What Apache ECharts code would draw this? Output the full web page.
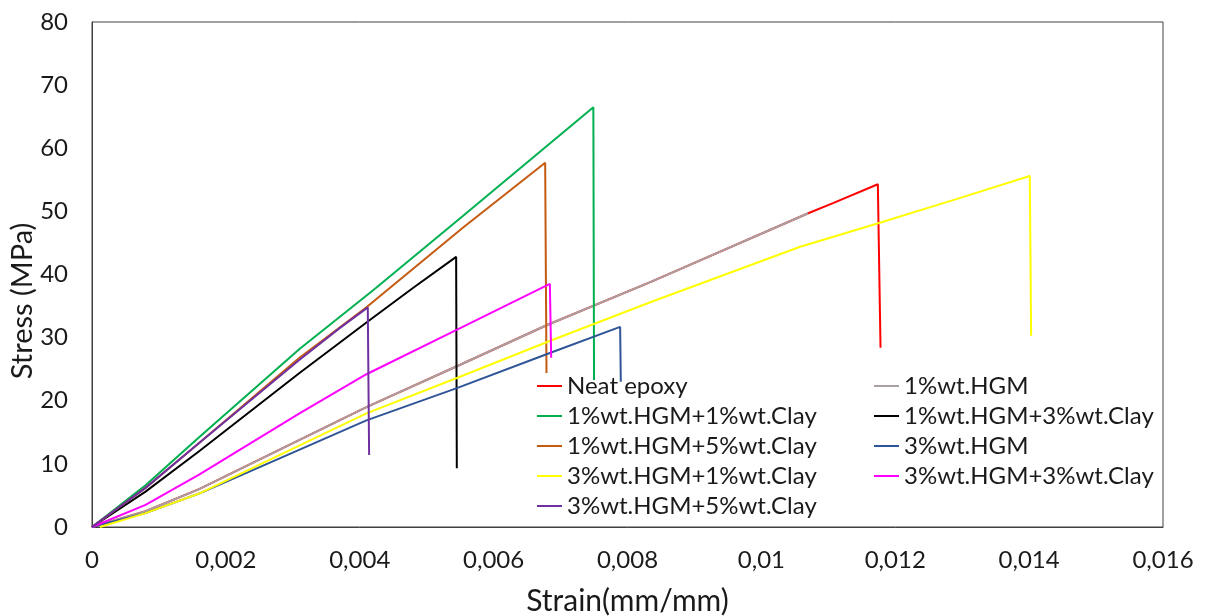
<!DOCTYPE html>
<html>
<head>
<meta charset="utf-8">
<script src="https://cdn.jsdelivr.net/npm/echarts@6/dist/echarts.min.js"></script>
<style>
  html, body { margin: 0; padding: 0; background: #fff; }
  #container { width: 1205px; height: 616px; }
</style>
</head>
<body>
<div id="container"></div>
<script>
// strain (mm/mm), stress (MPa)
var neatEpoxy = [[0,0],[0.0008,2.5],[0.0016,6.0],[0.0041,19.0],[0.0055,25.7],[0.0068,32.0],[0.00834,38.8],[0.0107,49.7],[0.01107,51.3],[0.01174,54.3],[0.01176,54.5],[0.01178,28.4]];
var hgm1 = [[0,0],[0.0008,2.5],[0.0016,6.0],[0.0041,19.0],[0.0055,25.7],[0.0068,32.0],[0.00834,38.8],[0.0107,49.7]];
var hgm1clay1 = [[0,0],[0.0008,6.6],[0.0016,14.2],[0.0031,28.2],[0.0042,37.5],[0.0055,48.9],[0.00749,66.5],[0.0075,23.3]];
var hgm1clay3 = [[0,0],[0.0008,5.6],[0.0016,12.0],[0.0031,24.4],[0.0041,32.4],[0.0048,37.9],[0.00544,42.8],[0.00545,9.3]];
var hgm1clay5 = [[0,0],[0.0008,6.2],[0.0016,13.3],[0.0031,26.8],[0.0041,34.8],[0.00554,47.4],[0.00677,57.7],[0.00679,24.4]];
var hgm3 = [[0,0],[0.0008,2.2],[0.0016,5.3],[0.0041,16.9],[0.00545,22.0],[0.0068,27.4],[0.00789,31.7],[0.0079,23.0]];
var hgm3clay1 = [[0.00012,0],[0.0008,2.2],[0.0016,5.3],[0.0041,18.0],[0.00545,23.6],[0.0068,29.3],[0.00834,35.6],[0.01058,44.4],[0.01177,48.2],[0.0129,51.9],[0.01401,55.6],[0.01403,30.3]];
var hgm3clay3 = [[0,0],[0.0008,3.5],[0.0016,8.3],[0.0031,18.0],[0.0041,24.2],[0.0055,31.5],[0.00684,38.5],[0.00686,26.8]];
var hgm3clay5 = [[0,0],[0.0008,6.2],[0.0016,13.3],[0.0031,26.5],[0.0037,31.5],[0.00412,34.8],[0.00414,11.4]];

var names = ['Neat epoxy', '1%wt.HGM', '1%wt.HGM+1%wt.Clay', '1%wt.HGM+3%wt.Clay', '1%wt.HGM+5%wt.Clay',
             '3%wt.HGM', '3%wt.HGM+1%wt.Clay', '3%wt.HGM+3%wt.Clay', '3%wt.HGM+5%wt.Clay'];
var colors = ['#FF0000', '#A9A0A0', '#00B050', '#000000', '#C55A11', '#2F5597', '#FFFF00', '#FF00FF', '#7030A0'];
var allData = [neatEpoxy, hgm1, hgm1clay1, hgm1clay3, hgm1clay5, hgm3, hgm3clay1, hgm3clay3, hgm3clay5];

var font = 'Lato, "Open Sans", sans-serif';
var textColor = '#1a1a1a';

var myChart = echarts.init(document.getElementById('container'));

var series = names.map(function (n, i) {
    return {
        name: n,
        type: 'line',
        data: allData[i],
        showSymbol: false,
        symbol: 'none',
        color: colors[i],
        lineStyle: { width: 2, color: colors[i] },
        animation: false
    };
});

var legendCommon = {
    orient: 'vertical',
    icon: 'rect',
    itemWidth: 25,
    itemHeight: 2,
    itemGap: 6,
    textStyle: { fontFamily: font, fontSize: 24, color: textColor },
    selectedMode: false
};

myChart.setOption({
    backgroundColor: '#fff',
    animation: false,
    grid: {
        left: 92, right: 42, top: 22, bottom: 89,
        outerBoundsMode: 'none',
        containLabel: false,
        show: true, borderColor: '#404040', borderWidth: 1, backgroundColor: '#fff'
    },
    legend: [
        Object.assign({ left: 532, top: 369, data: [names[0], names[2], names[4], names[6], names[8]] }, legendCommon),
        Object.assign({ left: 869, top: 369, data: [names[1], names[3], names[5], names[7]] }, legendCommon)
    ],
    xAxis: {
        type: 'value',
        min: 0, max: 0.016, interval: 0.002,
        name: 'Strain(mm/mm)',
        nameLocation: 'middle',
        nameGap: 59,
        nameMoveOverlap: false,
        nameTextStyle: { fontFamily: font, fontSize: 30, color: textColor },
        axisLine: { show: true, lineStyle: { color: '#404040', width: 1 } },
        axisTick: { show: false },
        splitLine: { show: false },
        axisLabel: {
            fontFamily: font, fontSize: 24, color: textColor, margin: 21,
            formatter: function (v) { return String(parseFloat(v.toFixed(3))).replace('.', ','); }
        }
    },
    yAxis: {
        type: 'value',
        min: 0, max: 80, interval: 10,
        name: 'Stress (MPa)',
        nameLocation: 'middle',
        nameGap: 55,
        nameMoveOverlap: false,
        nameTextStyle: { fontFamily: font, fontSize: 29, color: textColor, padding: [0, 53, 0, 0] },
        axisLine: { show: true, lineStyle: { color: '#404040', width: 1 } },
        axisTick: { show: false },
        splitLine: { show: false },
        axisLabel: { fontFamily: font, fontSize: 24, color: textColor, margin: 24 }
    },
    series: series
});
</script>
</body>
</html>
